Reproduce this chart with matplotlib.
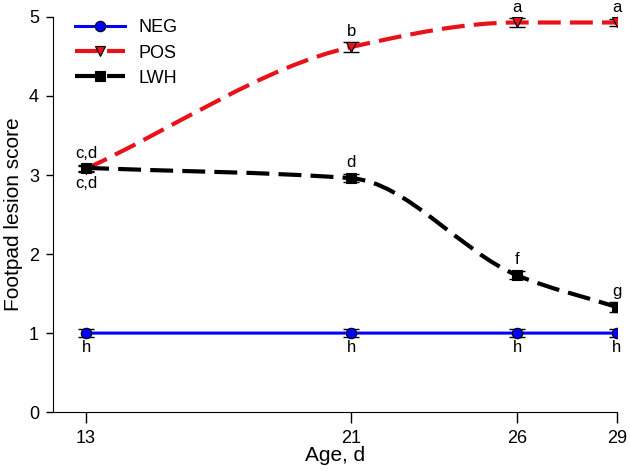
import matplotlib
matplotlib.use("Agg")
import matplotlib.pyplot as plt
from matplotlib.path import Path
from matplotlib.patches import PathPatch
from matplotlib.lines import Line2D

plt.rcParams["font.family"] = ["Liberation Sans", "DejaVu Sans"]

age = [13, 21, 26, 29]
neg = [1.0, 1.0, 1.0, 1.0]
neg_err = [0.05, 0.05, 0.05, 0.05]
pos = [3.08, 4.62, 4.93, 4.93]
pos_err = [0.04, 0.06, 0.06, 0.05]
lwh = [3.09, 2.96, 1.73, 1.33]
lwh_err = [0.04, 0.05, 0.05, 0.06]

pos_letters = ["c,d", "b", "a", "a"]
lwh_letters = ["c,d", "d", "f", "g"]
neg_letters = ["h", "h", "h", "h"]


def smooth_path(xs, ys):
    # monotone cubic (Fritsch-Butland) drawn as Bezier segments
    n = len(xs)
    d = [(ys[i + 1] - ys[i]) / (xs[i + 1] - xs[i]) for i in range(n - 1)]
    m = [d[0]] + [0.0] * (n - 2) + [d[-1]]
    for i in range(1, n - 1):
        if d[i - 1] * d[i] > 0:
            m[i] = 2 * d[i - 1] * d[i] / (d[i - 1] + d[i])
    verts = [(xs[0], ys[0])]
    codes = [Path.MOVETO]
    for i in range(n - 1):
        h = xs[i + 1] - xs[i]
        verts += [(xs[i] + h / 3, ys[i] + m[i] * h / 3),
                  (xs[i + 1] - h / 3, ys[i + 1] - m[i + 1] * h / 3),
                  (xs[i + 1], ys[i + 1])]
        codes += [Path.CURVE4] * 3
    return Path(verts, codes)


fig = plt.figure(figsize=(6.3, 4.71), dpi=100)
ax = fig.add_axes([0.084, 0.125, 0.895, 0.839])

dash = (0, (5.5, 2.2))
series = [
    (neg, neg_err, "#0000FF", "-", "o", "NEG", 2.2),
    (pos, pos_err, "#E8121A", dash, "v", "POS", 3.0),
    (lwh, lwh_err, "black", dash, "s", "LWH", 3.0),
]

handles = []
for vals, err, col, ls, mk, name, lw in series:
    ax.add_patch(PathPatch(smooth_path(age, vals), facecolor="none",
                           edgecolor=col, lw=lw, linestyle=ls, zorder=2))
    ax.errorbar(age, vals, yerr=err, fmt="none", ecolor="black",
                elinewidth=1, capsize=6, capthick=1, zorder=3)
    ax.plot(age, vals, linestyle="none", marker=mk, markersize=7.5,
            markerfacecolor=col, markeredgecolor="black",
            markeredgewidth=0.8, zorder=4)
    handles.append(Line2D([], [], color=col, lw=lw, linestyle=ls, marker=mk,
                          markersize=7.5, markerfacecolor=col,
                          markeredgecolor="black", markeredgewidth=0.8))

for x, y, t in zip(age, pos, pos_letters):
    ax.text(x, y + 0.1, t, ha="center", va="bottom", fontsize=12)
for i, (x, y, t) in enumerate(zip(age, lwh, lwh_letters)):
    if i == 0:
        ax.text(x, y - 0.1, t, ha="center", va="top", fontsize=12)
    else:
        ax.text(x, y + 0.1, t, ha="center", va="bottom", fontsize=12)
for x, y, t in zip(age, neg, neg_letters):
    ax.text(x, y - 0.09, t, ha="center", va="top", fontsize=12)

ax.legend(handles, ["NEG", "POS", "LWH"], loc="upper left",
          bbox_to_anchor=(0.01, 1.035), frameon=False, fontsize=13,
          handlelength=2.8, handletextpad=0.7, labelspacing=0.45)

ax.set_xlim(12, 29)
ax.set_ylim(0, 5)
ax.set_xticks(age)
ax.set_yticks([0, 1, 2, 3, 4, 5])
ax.tick_params(labelsize=13, direction="out", width=1)
ax.tick_params(axis="x", length=8, pad=5)
ax.tick_params(axis="y", length=5, pad=5)
ax.spines["top"].set_visible(False)
ax.spines["right"].set_visible(False)
ax.set_xlabel("Age, d", fontsize=15, labelpad=-1)
ax.set_ylabel("Footpad lesion score", fontsize=15, labelpad=4)

fig.savefig("out.png", dpi=100)
